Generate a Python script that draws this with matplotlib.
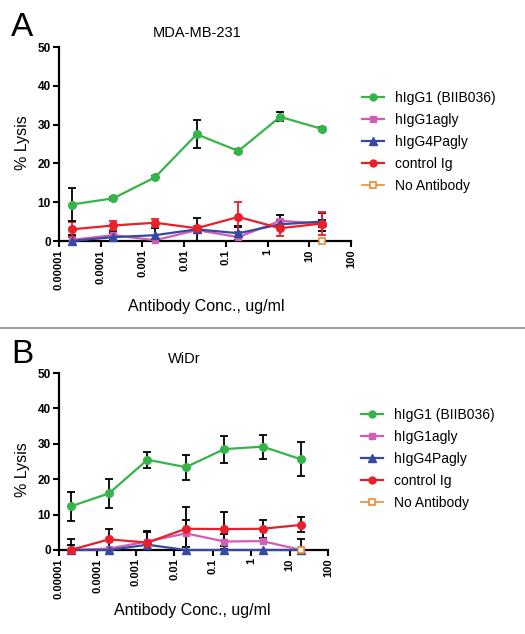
import matplotlib.pyplot as plt
from matplotlib.lines import Line2D

plt.rcParams['font.family'] = ['Liberation Sans', 'DejaVu Sans']

# antibody concentrations, ug/ml
conc = [2e-5, 2e-4, 2e-3, 2e-2, 0.2, 2, 20]
x_ticks = [1e-5, 1e-4, 1e-3, 1e-2, 0.1, 1, 10, 100]
x_tick_labels = ['0.00001', '0.0001', '0.001', '0.01', '0.1', '1', '10', '100']
series_names = ['hIgG1 (BIIB036)', 'hIgG1agly', 'hIgG4Pagly', 'control Ig', 'No Antibody']

# panel A: MDA-MB-231
igg1_a = [9.4, 11.0, 16.4, 27.5, 23.2, 32.0, 28.9]
igg1_a_err = [4.3, 0.4, 0.4, 3.6, 0.4, 1.2, 0.4]
agly_a = [0.3, 1.5, 0.2, 2.8, 1.0, 5.2, 4.5]
agly_a_err = [1.2, 1.2, 0.0, 0.0, 2.5, 1.5, 0.8]
g4_a = [0.0, 1.0, 1.5, 3.0, 2.0, 4.3, 5.0]
g4_a_err = [1.0, 1.0, 1.8, 3.0, 1.8, 1.0, 2.3]
ctrl_a = [3.0, 4.0, 4.7, 3.3, 6.2, 3.3, 4.5]
ctrl_a_err = [1.9, 1.2, 1.0, 0.6, 3.8, 2.0, 3.0]
noab_a = [0.0]

# panel B: WiDr
igg1_b = [12.3, 16.0, 25.5, 23.4, 28.5, 29.2, 25.6]
igg1_b_err = [4.2, 4.0, 2.2, 3.5, 3.8, 3.4, 4.8]
agly_b = [0.0, 0.4, 2.4, 4.7, 2.4, 2.5, 0.0]
agly_b_err = [1.3, 0.0, 2.6, 3.8, 2.0, 0.0, 3.0]
g4_b = [0.0, 0.0, 1.5, 0.0, 0.0, 0.0, 0.0]
g4_b_err = [0.0, 0.0, 0.0, 0.0, 0.0, 0.0, 0.0]
ctrl_b = [0.0, 3.0, 2.1, 6.0, 5.9, 6.0, 7.1]
ctrl_b_err = [3.0, 3.0, 3.4, 6.2, 4.8, 2.5, 2.1]
noab_b = [0.0]

GREEN = '#35b449'
PINK = '#d25db5'
BLUE = '#34499f'
RED = '#e8202a'
ORANGE = '#ef8a34'


def draw_panel(ax, igg1, igg1_err, agly, agly_err, g4, g4_err, ctrl, ctrl_err, noab, ctrl_ecolor):
    eb = dict(fmt='none', elinewidth=1.3, capsize=3, capthick=1.3)
    ax.errorbar(conc, g4, yerr=g4_err, ecolor='black', **eb)
    ax.errorbar(conc, agly, yerr=agly_err, ecolor='black', **eb)
    ax.errorbar(conc, ctrl, yerr=ctrl_err, ecolor=ctrl_ecolor, **eb)
    ax.errorbar(conc, igg1, yerr=igg1_err, ecolor='black', **eb)
    ax.plot(conc, agly, color=PINK, marker='s', ms=5, lw=1.6, clip_on=False, zorder=3)
    ax.plot(conc, g4, color=BLUE, marker='^', ms=5.5, lw=1.6, clip_on=False, zorder=3)
    ax.plot(conc, ctrl, color=RED, marker='o', ms=5.5, lw=1.6, clip_on=False, zorder=4)
    ax.plot(conc, igg1, color=GREEN, marker='o', ms=5.5, lw=1.6, clip_on=False, zorder=4)
    ax.plot(conc[-1:], noab, color=ORANGE, marker='s', ms=5, mfc='white', mew=1.2,
            ls='none', clip_on=False, zorder=5)

    ax.set_xscale('log')
    ax.set_xlim(1e-5, 100)
    ax.set_ylim(0, 50)
    ax.set_xticks(x_ticks)
    ax.set_xticklabels(x_tick_labels, rotation=90, fontsize=8, fontweight='bold')
    ax.minorticks_off()
    ax.set_yticks([0, 10, 20, 30, 40, 50])
    ax.tick_params(axis='y', labelsize=8.5)
    for lab in ax.get_yticklabels():
        lab.set_fontweight('bold')
    ax.tick_params(direction='out', width=1.5, length=4, pad=2)
    for s in ['top', 'right']:
        ax.spines[s].set_visible(False)
    for s in ['left', 'bottom']:
        ax.spines[s].set_linewidth(1.6)


def legend_handles():
    return [
        Line2D([], [], color=GREEN, marker='o', ms=5, lw=1.6),
        Line2D([], [], color=PINK, marker='s', ms=5, lw=1.6),
        Line2D([], [], color=BLUE, marker='^', ms=5.5, lw=1.6),
        Line2D([], [], color=RED, marker='o', ms=5, lw=1.6),
        Line2D([], [], color=ORANGE, marker='s', ms=5, mfc='white', mew=1.2, lw=1.2),
    ]


fig = plt.figure(figsize=(5.25, 6.34), dpi=100)
W, H = 525, 634

ax_a = fig.add_axes([59 / W, 1 - 241 / H, (351 - 59) / W, (241 - 47) / H])
draw_panel(ax_a, igg1_a, igg1_a_err, agly_a, agly_a_err, g4_a, g4_a_err,
           ctrl_a, ctrl_a_err, noab_a, RED)

ax_b = fig.add_axes([59 / W, 1 - 550 / H, (328 - 59) / W, (550 - 373) / H])
draw_panel(ax_b, igg1_b, igg1_b_err, agly_b, agly_b_err, g4_b, g4_b_err,
           ctrl_b, ctrl_b_err, noab_b, 'black')

legend_kw = dict(loc='upper left', frameon=False, fontsize=10, borderpad=0,
                 borderaxespad=0, handlelength=1.6, handletextpad=0.8, labelspacing=0.58)
fig.legend(legend_handles(), series_names, bbox_to_anchor=(362 / W, 1 - 91 / H), **legend_kw)
fig.legend(legend_handles(), series_names, bbox_to_anchor=(361 / W, 1 - 408 / H), **legend_kw)

# panel letters, titles, axis labels
fig.text(11 / W, 1 - 36 / H, 'A', fontsize=24, va='baseline')
fig.text(11 / W, 1 - 363 / H, 'B', fontsize=24, va='baseline')
fig.text(197 / W, 1 - 37 / H, 'MDA-MB-231', fontsize=10.5, ha='center', va='baseline')
fig.text(184 / W, 1 - 363 / H, 'WiDr', fontsize=10.5, ha='center', va='baseline')
fig.text(23 / W, 1 - 143 / H, '% Lysis', fontsize=11.5, rotation=90, ha='center', va='center')
fig.text(23 / W, 1 - 470 / H, '% Lysis', fontsize=11.5, rotation=90, ha='center', va='center')
fig.text(206 / W, 1 - 307 / H, 'Antibody Conc., ug/ml', fontsize=11.5, ha='center', va='center')
fig.text(192 / W, 1 - 611 / H, 'Antibody Conc., ug/ml', fontsize=11.5, ha='center', va='center')

# separator between panels
fig.add_artist(Line2D([0, 1], [1 - 328 / H, 1 - 328 / H], color='#8c8c8c', lw=1.2))

fig.savefig('out.png', dpi=100)
